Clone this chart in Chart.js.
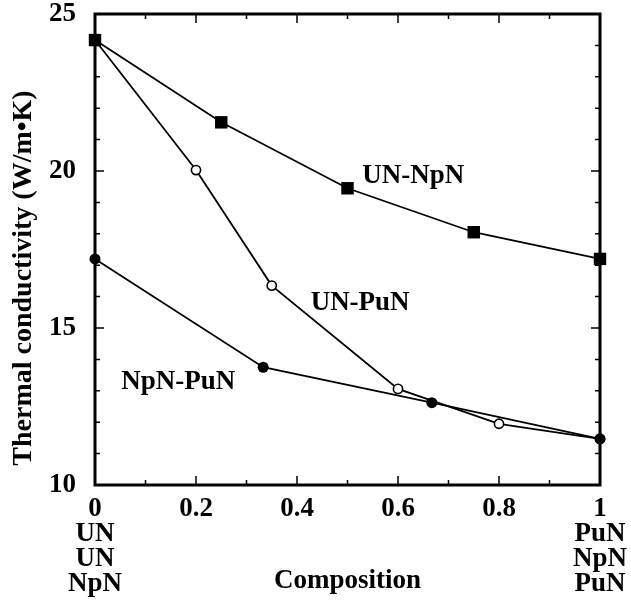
<!DOCTYPE html>
<html>
<head>
<meta charset="utf-8">
<script src="https://cdn.jsdelivr.net/npm/chart.js@4/dist/chart.umd.min.js"></script>
<style>
  html, body { margin: 0; padding: 0; background: #fff; }
  #wrap { width: 631px; height: 603px; }
</style>
</head>
<body>
<div id="wrap"><canvas id="c" width="631" height="603"></canvas></div>
<script>
// ---- data ----
const unNpN_x = [0, 0.25, 0.5, 0.75, 1];
const unNpN_y = [24.17, 21.55, 19.45, 18.05, 17.2];

const unPuN_x = [0, 0.2, 0.35, 0.6, 0.8, 1];
const unPuN_y = [24.17, 20.03, 16.35, 13.06, 11.95, 11.47];

const npNPuN_x = [0, 0.333, 0.667, 1];
const npNPuN_y = [17.2, 13.75, 12.62, 11.47];

const seriesNames = ['UN-NpN', 'NpN-PuN', 'UN-PuN'];
const annotX = [0.63, 0.165, 0.525];
const annotY = [19.85, 13.28, 15.8];

const xTickValues = [0, 0.2, 0.4, 0.6, 0.8, 1];
const xTickLabels = ['0', '0.2', '0.4', '0.6', '0.8', '1'];
const leftEndLabels = ['UN', 'UN', 'NpN'];
const rightEndLabels = ['PuN', 'NpN', 'PuN'];
const yTickLabels = ['10', '15', '20', '25'];
const xTitle = 'Composition';
const yTitle = 'Thermal conductivity (W/m\u2022K)';

const pts = (xs, ys) => xs.map((x, i) => ({ x: x, y: ys[i] }));

const FONT = "'Liberation Serif', 'Times New Roman', serif";

const framePlugin = {
  id: 'frame',
  afterDatasetsDraw(chart) {
    const { ctx, chartArea: a, scales: { x, y } } = chart;
    ctx.save();
    ctx.strokeStyle = '#000';
    ctx.lineWidth = 1.5;
    // x ticks every 0.1
    for (let k = 0; k <= 10; k++) {
      const px = x.getPixelForValue(k / 10);
      const len = (k % 2 === 0) ? 9 : 5;
      ctx.beginPath();
      ctx.moveTo(px, a.bottom); ctx.lineTo(px, a.bottom - len);
      ctx.moveTo(px, a.top); ctx.lineTo(px, a.top + len);
      ctx.stroke();
    }
    // y ticks every 1
    for (let v = 10; v <= 25; v++) {
      const py = y.getPixelForValue(v);
      const len = (v % 5 === 0) ? 9 : 5;
      ctx.beginPath();
      ctx.moveTo(a.left, py); ctx.lineTo(a.left + len, py);
      ctx.moveTo(a.right, py); ctx.lineTo(a.right - len, py);
      ctx.stroke();
    }
    ctx.lineWidth = 3;
    ctx.strokeRect(a.left, a.top, a.right - a.left, a.bottom - a.top);
    ctx.fillStyle = '#000';
    ctx.textAlign = 'center';
    ctx.textBaseline = 'middle';
    // series annotations
    ctx.font = "bold 27px " + FONT;
    seriesNames.forEach((n, i) => {
      ctx.fillText(n, x.getPixelForValue(annotX[i]), y.getPixelForValue(annotY[i]));
    });
    // y axis title
    ctx.font = "bold 28px " + FONT;
    ctx.translate(24, 278);
    ctx.rotate(-Math.PI / 2);
    ctx.fillText(yTitle, 0, 0);
    ctx.restore();
  }
};

const lineCommon = {
  borderColor: '#000',
  borderWidth: 1.8,
  showLine: true,
  tension: 0,
  clip: false
};

new Chart(document.getElementById('c'), {
  type: 'scatter',
  data: {
    datasets: [
      Object.assign({}, lineCommon, {
        label: seriesNames[0],
        data: pts(unNpN_x, unNpN_y),
        pointStyle: 'rect',
        pointRadius: 8.8,
        backgroundColor: '#000',
        pointBorderColor: '#000',
        pointBorderWidth: 0
      }),
      Object.assign({}, lineCommon, {
        label: seriesNames[1],
        data: pts(npNPuN_x, npNPuN_y),
        pointStyle: 'circle',
        pointRadius: 5.5,
        backgroundColor: '#000',
        pointBorderColor: '#000',
        pointBorderWidth: 0
      }),
      Object.assign({}, lineCommon, {
        label: seriesNames[2],
        data: pts(unPuN_x, unPuN_y),
        pointStyle: 'circle',
        pointRadius: 4.6,
        backgroundColor: '#fff',
        pointBackgroundColor: '#fff',
        pointBorderColor: '#000',
        pointBorderWidth: 1.6
      })
    ]
  },
  options: {
    responsive: false,
    animation: false,
    devicePixelRatio: 1,
    layout: { padding: { top: 14, right: 31, left: 0, bottom: 0 } },
    plugins: { legend: { display: false }, tooltip: { enabled: false } },
    scales: {
      x: {
        type: 'linear',
        min: 0, max: 1,
        afterBuildTicks: (s) => { s.ticks = xTickValues.map(v => ({ value: v })); },
        afterFit: (s) => { s.height = 118; s.paddingLeft = 0; s.paddingRight = 0; },
        grid: { display: false, drawTicks: false, tickLength: 0 },
        border: { display: false },
        ticks: {
          color: '#000',
          padding: 11,
          maxRotation: 0,
          autoSkip: false,
          font: { family: FONT, size: 27, weight: 'bold', lineHeight: 0.93 },
          callback: (v, i) => {
            if (i === 0) return [xTickLabels[0]].concat(leftEndLabels);
            if (i === xTickLabels.length - 1) return [xTickLabels[i]].concat(rightEndLabels);
            return xTickLabels[i];
          }
        },
        title: {
          display: true,
          text: xTitle,
          color: '#000',
          font: { family: FONT, size: 27, weight: 'bold', lineHeight: 1 },
          padding: { top: 0, bottom: 8 }
        }
      },
      y: {
        type: 'linear',
        min: 10, max: 25,
        afterBuildTicks: (s) => { s.ticks = yTickLabels.map(v => ({ value: +v })); },
        afterFit: (s) => { s.width = 95; s.paddingTop = 0; s.paddingBottom = 0; },
        grid: { display: false, drawTicks: false, tickLength: 0 },
        border: { display: false },
        ticks: {
          color: '#000',
          padding: 19,
          font: { family: FONT, size: 27, weight: 'bold', lineHeight: 1 },
          callback: (v, i) => yTickLabels[i]
        },
        title: { display: false }
      }
    }
  },
  plugins: [framePlugin]
});
</script>
</body>
</html>
